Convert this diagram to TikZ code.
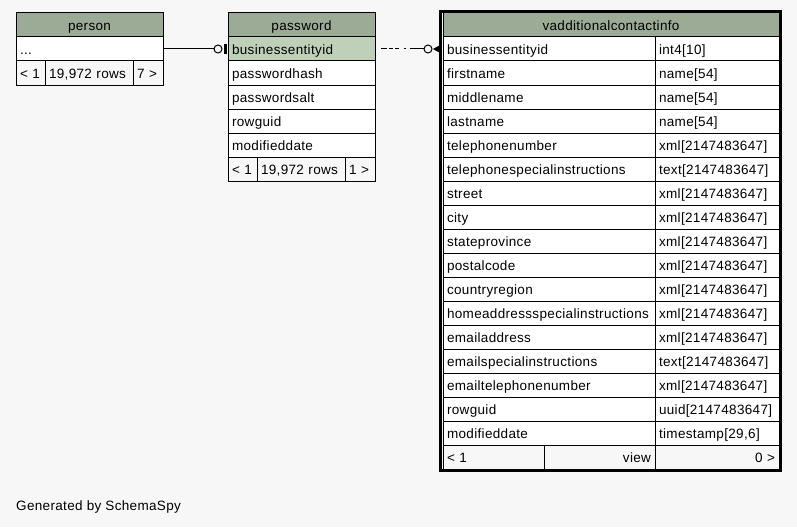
\documentclass[tikz,border=0pt]{standalone}
\usepackage{fontspec}
\setmainfont[LetterSpace=2.5]{Liberation Sans}
\definecolor{bg}{HTML}{F7F7F7}
\definecolor{hdr}{HTML}{9BAB96}
\definecolor{pk}{HTML}{BED1B8}
\newcommand\mycell[7]{%
  \pgfmathsetmacro\mytw{#4-8}%
  \node[cellbox, fill=#5, minimum width=#4pt, text width=\mytw pt, align=#6] (#1) at (#2,#3) {#7};%
}
\tikzset{
  cellbox/.style={draw=black, line width=1pt, anchor=north west, outer sep=0pt,
    inner xsep=4pt, inner ysep=0pt, minimum height=24pt,
    text height=13.3pt, text depth=2.7pt, font=\fontsize{13.5}{16}\selectfont},
  conn/.style={line width=1pt, draw=black},
}
\begin{document}
\begin{tikzpicture}[x=1pt,y=-1pt]
\useasboundingbox[fill=bg] (0,0) rectangle (797,527);
% person
\mycell{ph}{16}{13}{147}{hdr}{center}{person}
\mycell{p1}{16}{37}{147}{white}{left}{...}
\mycell{pf1}{16}{61}{29}{bg}{left}{< 1}
\mycell{pf2}{45}{61}{88}{bg}{left}{19,972 rows}
\mycell{pf3}{133}{61}{30}{bg}{left}{7 >}
% password
\mycell{pwh}{228}{13}{147}{hdr}{center}{password}
\mycell{pw1}{228}{37}{147}{pk}{left}{businessentityid}
\mycell{pw2}{228}{61}{147}{white}{left}{passwordhash}
\mycell{pw3}{228}{85}{147}{white}{left}{passwordsalt}
\mycell{pw4}{228}{109}{147}{white}{left}{rowguid}
\mycell{pw5}{228}{133}{147}{white}{left}{modifieddate}
\mycell{pwf1}{228}{157}{29}{bg}{left}{< 1}
\mycell{pwf2}{257}{157}{88}{bg}{left}{19,972 rows}
\mycell{pwf3}{345}{157}{30}{bg}{left}{1 >}
% view
\mycell{vh}{443}{13}{336}{hdr}{center}{vadditionalcontactinfo}
\foreach \n/\t [count=\i] in {businessentityid/int4[10], firstname/name[54], middlename/name[54], lastname/name[54], telephonenumber/xml[2147483647], telephonespecialinstructions/text[2147483647], street/xml[2147483647], city/xml[2147483647], stateprovince/xml[2147483647], postalcode/xml[2147483647], countryregion/xml[2147483647], homeaddressspecialinstructions/xml[2147483647], emailaddress/xml[2147483647], emailspecialinstructions/text[2147483647], emailtelephonenumber/xml[2147483647], rowguid/uuid[2147483647], modifieddate/{timestamp[29,6]}}{
  \pgfmathsetmacro\yy{13+24*\i}
  \mycell{v\i n}{443}{\yy}{212}{white}{left}{\n}
  \mycell{v\i t}{655}{\yy}{124}{white}{left}{\t}
}
\mycell{vf1}{443}{445}{101}{bg}{left}{< 1}
\mycell{vf2}{544}{445}{111}{bg}{right}{view}
\mycell{vf3}{655}{445}{124}{bg}{right}{0 >}
\node[draw=black, line width=3pt, anchor=north west, outer sep=0pt, inner sep=0pt,
  minimum width=339.5pt, minimum height=458.5pt] (vframe) at (440.5,11.5) {};
% connector person -> password
\draw[conn] (p1.east) -- ([xshift=-14pt]pw1.west);
\draw[conn, fill=bg] ([xshift=-10pt]pw1.west) circle (4pt);
\draw[line width=3pt] ([xshift=-2.5pt,yshift=5pt]pw1.west) -- ([xshift=-2.5pt,yshift=-5pt]pw1.west);
% connector password -> view
\draw[conn, dash pattern=on 6pt off 2pt on 4pt off 2pt on 4pt off 5pt on 2pt off 4pt] ([xshift=6pt]pw1.east) -- ([xshift=-33pt]v1n.west);
\draw[conn] ([xshift=-33pt]v1n.west) -- ([xshift=-19pt]v1n.west);
\draw[conn, fill=bg] ([xshift=-15pt]v1n.west) circle (4pt);
\fill[black] ([xshift=-10pt]v1n.west) -- ([xshift=-2pt,yshift=4.5pt]v1n.west) -- ([xshift=-2pt,yshift=-4.5pt]v1n.west) -- cycle;
% footer text
\node[anchor=west, inner sep=0pt, font=\fontsize{13.5}{16}\selectfont] (gen) at (16,507) {Generated by SchemaSpy};
\end{tikzpicture}
\end{document}
